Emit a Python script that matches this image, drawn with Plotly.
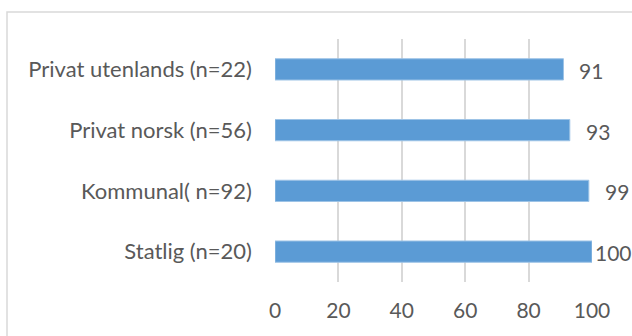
import plotly.graph_objects as go

categories = ["Statlig (n=20)", "Kommunal( n=92)", "Privat norsk (n=56)", "Privat utenlands (n=22)"]
values = [100, 99, 93, 91]
x_ticks = [0, 20, 40, 60, 80, 100]

W, H = 632, 336
M_L, M_R, M_T, M_B = 275, 40, 39, 54
plot_w = W - M_L - M_R
TEXT = "#595959"
FONT = "Lato"

fig = go.Figure(go.Bar(
    x=values, y=categories, orientation="h",
    marker=dict(color="#5B9BD5", line=dict(color="#9DC3E6", width=1)),
    hoverinfo="skip",
))

# value labels placed just past the bar ends, kept inside the window
for v, c in zip(values, categories):
    end_px = M_L + v / 100 * plot_w
    label_w = 11.5 * len(str(v))
    center = min(end_px + 28, W - label_w / 2 - 1)
    fig.add_annotation(x=v, y=c, text=str(v), showarrow=False,
                       xanchor="center", xshift=center - end_px, yshift=-1,
                       font=dict(family=FONT, size=21, color=TEXT))

# light chart-area border
fig.add_shape(type="rect", xref="paper", yref="paper",
              x0=(7 - M_L) / plot_w, x1=1.3,
              y0=-0.5, y1=1 + (M_T - 12) / (H - M_T - M_B),
              line=dict(color="#D9D9D9", width=1.5), layer="below")

fig.update_layout(
    width=W, height=H,
    margin=dict(l=M_L, r=M_R, t=M_T, b=M_B, autoexpand=False),
    paper_bgcolor="white", plot_bgcolor="white",
    bargap=0.65, showlegend=False,
    font=dict(family=FONT, size=21, color=TEXT),
)
fig.update_xaxes(range=[0, 100], tickvals=x_ticks, showgrid=True,
                 gridcolor="#D9D9D9", gridwidth=1.5, zeroline=False,
                 showline=False, ticklabelstandoff=14, fixedrange=True,
                 tickfont=dict(size=21))
fig.update_yaxes(showgrid=False, showline=False, ticklabelstandoff=22,
                 fixedrange=True, tickfont=dict(size=22))

fig.write_html("out.html")
